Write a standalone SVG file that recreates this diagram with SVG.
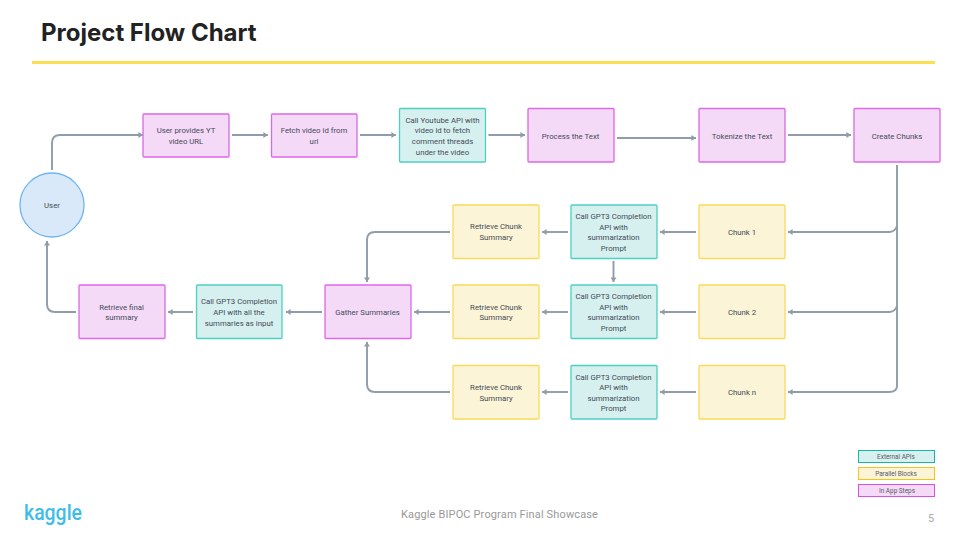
<svg xmlns="http://www.w3.org/2000/svg" width="960" height="540" viewBox="0 0 960 540">
<style>
text{font-family:"Roboto","Liberation Sans",sans-serif}
.n rect,.n circle{stroke-width:1.3}
.n text{font-size:7.8px;fill:#454a57;text-anchor:middle;letter-spacing:0;font-weight:400}
.p rect{fill:#f4daf7;stroke:#dc68ea}
.t rect{fill:#d6f0ef;stroke:#4dcfc2}
.y rect{fill:#fcf4d6;stroke:#fbd95c}
.c path{fill:none;stroke:#8f9cab;stroke-width:1.9;marker-end:url(#a)}
.l rect{stroke-width:1}
.l text{font-size:6.4px;fill:#555b66;text-anchor:middle}
</style>
<defs><marker id="a" markerUnits="userSpaceOnUse" markerWidth="6" markerHeight="7" refX="4.600" refY="3.500" orient="auto"><path d="M0 .5L4.600 3.500L0 6.500Z" fill="#8f9cab"/></marker></defs>
<rect width="960" height="540" fill="#fff"/>
<text id="title" x="41" y="41" style="font-family:Inter,'Liberation Sans',sans-serif;font-size:24px;font-weight:700;fill:#222">Project Flow Chart</text>
<rect x="32" y="61" width="903" height="3" fill="#fbe04f"/>
<g id="connectors" class="c">
<path d="M52 170V143Q52 135 60 135H143"/>
<path d="M232 135H268"/>
<path d="M360 135H396"/>
<path d="M488.500 135H525"/>
<path d="M617 138H696"/>
<path d="M788 135H851"/>
<path d="M897 165V386Q897 392 889 392H788"/>
<path d="M897 226Q895 232 889 232H788"/>
<path d="M897 306Q895 312 889 312H788"/>
<path d="M696 232H660"/>
<path d="M696 312H660"/>
<path d="M696 392H660"/>
<path d="M568 232H542"/>
<path d="M568 312H542"/>
<path d="M568 392H542"/>
<path d="M613.500 261V282"/>
<path d="M450 232H375Q367 232 367 240V282"/>
<path d="M450 312H414"/>
<path d="M450 392H375Q367 392 367 384V342"/>
<path d="M322 312H286"/>
<path d="M193 312H168"/>
<path d="M76 312H55Q47 312 47 304V241"/>
</g>
<g id="user" class="n"><circle cx="52" cy="205" r="32" fill="#dae9f9" stroke="#6fb5f2"/><text x="52" y="208">User</text></g>
<g id="n1" class="n p"><rect x="143" y="114" width="86" height="43" rx="1"/><text x="186" y="133">User provides YT</text><text x="186" y="144">video URL</text></g>
<g id="n2" class="n p"><rect x="271.500" y="114" width="85.500" height="43" rx="1"/><text x="314" y="133">Fetch video id from</text><text x="314" y="144">url</text></g>
<g id="n3" class="n t"><rect x="399.500" y="108.500" width="86" height="53.500" rx="1"/><text x="442.500" y="122.500">Call Youtube API with</text><text x="442.500" y="133">video id to fetch</text><text x="442.500" y="144">comment threads</text><text x="442.500" y="154.500">under the video</text></g>
<g id="n4" class="n p"><rect x="528" y="108.500" width="86" height="53.500" rx="1"/><text x="570.500" y="138.500">Process the Text</text></g>
<g id="n5" class="n p"><rect x="699" y="108.500" width="86" height="53.500" rx="1"/><text x="742" y="138.500">Tokenize the Text</text></g>
<g id="n6" class="n p"><rect x="854" y="108.500" width="86" height="53.500" rx="1"/><text x="897" y="138.500">Create Chunks</text></g>
<g id="c1" class="n y"><rect x="699" y="205" width="86" height="53.500" rx="1"/><text x="742" y="234.500">Chunk 1</text></g>
<g id="c2" class="n y"><rect x="699" y="285" width="86" height="53.500" rx="1"/><text x="742" y="315">Chunk 2</text></g>
<g id="c3" class="n y"><rect x="699" y="365.500" width="86" height="53.500" rx="1"/><text x="742" y="395">Chunk n</text></g>
<g id="g1" class="n t"><rect x="571" y="205" width="86" height="53.500" rx="1"/><text x="613.500" y="219">Call GPT3 Completion</text><text x="613.500" y="229.500">API with</text><text x="613.500" y="240">summarization</text><text x="613.500" y="251">Prompt</text></g>
<g id="g2" class="n t"><rect x="571" y="285" width="86" height="53.500" rx="1"/><text x="613.500" y="299">Call GPT3 Completion</text><text x="613.500" y="309.500">API with</text><text x="613.500" y="320">summarization</text><text x="613.500" y="331">Prompt</text></g>
<g id="g3" class="n t"><rect x="571" y="365.500" width="86" height="53.500" rx="1"/><text x="613.500" y="379.500">Call GPT3 Completion</text><text x="613.500" y="390">API with</text><text x="613.500" y="400.500">summarization</text><text x="613.500" y="411">Prompt</text></g>
<g id="r1" class="n y"><rect x="453" y="205" width="86" height="53.500" rx="1"/><text x="496" y="229">Retrieve Chunk</text><text x="496" y="240">Summary</text></g>
<g id="r2" class="n y"><rect x="453" y="285" width="86" height="53.500" rx="1"/><text x="496" y="309.500">Retrieve Chunk</text><text x="496" y="320">Summary</text></g>
<g id="r3" class="n y"><rect x="453" y="365.500" width="86" height="53.500" rx="1"/><text x="496" y="390">Retrieve Chunk</text><text x="496" y="401">Summary</text></g>
<g id="gather" class="n p"><rect x="325" y="285" width="86" height="53.500" rx="1"/><text x="367.500" y="315">Gather Summaries</text></g>
<g id="all" class="n t"><rect x="196.500" y="285" width="85.500" height="53.500" rx="1"/><text x="239" y="304">Call GPT3 Completion</text><text x="239" y="315">API with all the</text><text x="239" y="325.500">summaries as input</text></g>
<g id="final" class="n p"><rect x="79" y="285" width="86" height="53.500" rx="1"/><text x="121.500" y="309.500">Retrieve final</text><text x="121.500" y="320">summary</text></g>
<g id="legend1" class="l"><rect x="858.500" y="450.500" width="76" height="12" fill="#d6f0ef" stroke="#14b8a6"/><text x="896" y="458.800">External APIs</text></g>
<g id="legend2" class="l"><rect x="858.500" y="467.500" width="76" height="12" fill="#fcf4d6" stroke="#f5c518"/><text x="896" y="475.800">Parallel Blocks</text></g>
<g id="legend3" class="l"><rect x="858.500" y="484.500" width="76" height="12" fill="#f4daf7" stroke="#d94fe8"/><text x="897" y="492.800">In App Steps</text></g>
<text id="logo" x="24" y="519.500" textLength="58" lengthAdjust="spacingAndGlyphs" style="font-size:22px;font-weight:500;fill:#3fbde9">kaggle</text>
<text id="footer" x="401" y="517.500" style="font-size:11px;fill:#999;letter-spacing:.14px">Kaggle BIPOC Program Final Showcase</text>
<text id="page" x="928" y="522" style="font-size:11px;fill:#aaa">5</text>
</svg>
